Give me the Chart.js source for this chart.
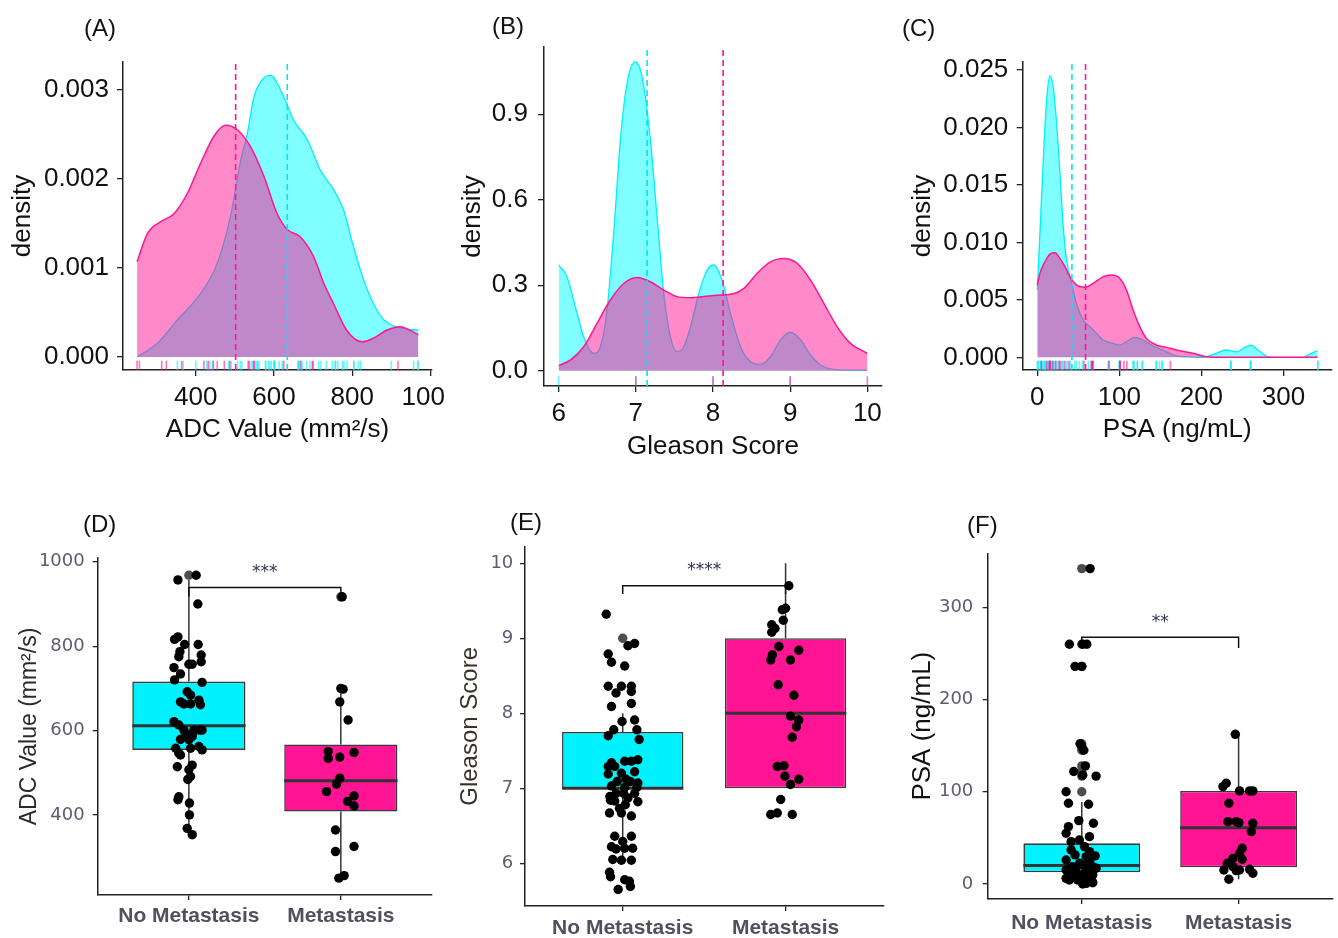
<!DOCTYPE html>
<html><head><meta charset="utf-8">
<script src="https://cdn.jsdelivr.net/npm/chart.js@4.4.1/dist/chart.umd.min.js"></script>
<style>
html,body{margin:0;padding:0;background:#fff;}
#wrap{position:relative;width:1338px;height:938px;overflow:hidden;background:#fff;}
canvas{position:absolute;}
.lab{position:absolute;font-family:"Liberation Sans",Arial,sans-serif;font-size:24px;color:#111;line-height:24px;}
</style></head><body><div id="wrap">
<canvas id="cA" width="446" height="410" style="left:0px;top:40px"></canvas>
<canvas id="cB" width="446" height="450" style="left:446px;top:20px"></canvas>
<canvas id="cC" width="446" height="410" style="left:892px;top:40px"></canvas>
<canvas id="cD" width="446" height="408" style="left:0px;top:530px"></canvas>
<canvas id="cE" width="446" height="418" style="left:446px;top:520px"></canvas>
<canvas id="cF" width="446" height="418" style="left:892px;top:520px"></canvas>
<div class="lab" style="left:84px;top:16px">(A)</div>
<div class="lab" style="left:492px;top:14px">(B)</div>
<div class="lab" style="left:902px;top:16px">(C)</div>
<div class="lab" style="left:83px;top:512px">(D)</div>
<div class="lab" style="left:510px;top:510px">(E)</div>
<div class="lab" style="left:967px;top:513px">(F)</div>
</div>
<script>
// ===================== DATA =====================
const groups = ['No Metastasis', 'Metastasis'];

// (A) ADC density
const adcNoMetX = [250,302,353,413,455,489,515,532,549,574,591,625,650,685,718,752,778,803,829,854,880,905,930,969];
const adcNoMetD = [0.00000,0.000154,0.000416,0.000716,0.00105,0.00158,0.00221,0.00251,0.00292,0.00313,0.00316,0.00292,0.00266,0.00244,0.00210,0.00188,0.00165,0.00124,0.00087,0.00060,0.00042,0.00035,0.00032,0.00030];
const adcMetX = [250,277,311,345,379,413,447,476,506,540,574,608,634,667,701,727,752,786,825,854,888,922,969];
const adcMetD = [0.00107,0.00139,0.00152,0.00161,0.00184,0.00218,0.00248,0.00260,0.00255,0.00236,0.00203,0.00161,0.00143,0.00135,0.00113,0.00083,0.00060,0.00030,0.00017,0.00021,0.00030,0.00034,0.00025];
const adcMeans = [634, 502];
const adcXTicks = [400, 600, 800, 1000];
const adcXLabels = ['400', '600', '800', '1000'];
const adcDensTicks = [0, 0.001, 0.002, 0.003];
const adcDensLabels = ['0.000', '0.001', '0.002', '0.003'];

// (B) Gleason density
const gsNoMetX = [6.0,6.108,6.216,6.324,6.454,6.540,6.627,6.713,6.800,6.886,6.994,7.081,7.189,7.275,7.362,7.448,7.535,7.621,7.708,7.816,7.924,8.010,8.118,8.227,8.356,8.486,8.616,8.745,8.875,9.005,9.135,9.264,9.394,9.524,9.653,10];
const gsNoMetD = [0.371,0.330,0.225,0.119,0.061,0.084,0.213,0.482,0.809,1.008,1.084,1.032,0.809,0.540,0.271,0.119,0.067,0.084,0.154,0.271,0.353,0.371,0.318,0.201,0.084,0.032,0.022,0.049,0.108,0.135,0.108,0.055,0.020,0.006,0.002,0.002];
const gsMetX = [6.0,6.151,6.324,6.497,6.670,6.843,7.016,7.189,7.362,7.535,7.708,7.881,8.054,8.227,8.400,8.573,8.745,8.918,9.091,9.264,9.437,9.610,9.783,10];
const gsMetD = [0.018,0.037,0.084,0.166,0.248,0.306,0.327,0.312,0.283,0.260,0.256,0.260,0.265,0.268,0.289,0.342,0.382,0.394,0.377,0.318,0.236,0.154,0.096,0.061];
const gsMeans = [7.146, 8.131];
const gsRugNoMet = [6, 7, 8, 9];
const gsRugMet = [7, 8, 9, 10];
const gsXTicks = [6, 7, 8, 9, 10];
const gsXLabels = ['6', '7', '8', '9', '10'];
const gsDensTicks = [0, 0.3, 0.6, 0.9];
const gsDensLabels = ['0.0', '0.3', '0.6', '0.9'];

// (C) PSA density
const psaNoMetX = [0,3.2,7.3,11.4,15.4,19.5,23.5,27.6,31.6,35.7,41.8,47.8,56.0,64.1,72.2,80.3,88.4,100.6,108.7,118.8,128.9,141.1,153.3,165.5,177.6,201.9,218.2,230.3,242.5,254.7,260.7,268.8,279.0,291,323.6,333.7,341.8];
const psaNoMetD = [0.00586,0.0108,0.0172,0.0224,0.0245,0.0235,0.0204,0.0160,0.0114,0.00847,0.00644,0.00470,0.00325,0.00267,0.00209,0.00151,0.00128,0.00107,0.00136,0.00174,0.00151,0.00099,0.00064,0.00020,0.00006,0,0.00035,0.00064,0.00049,0.00093,0.00107,0.00064,0.00012,0,0,0.00035,0.00058];
const psaMetX = [0,3.2,9.3,15.4,21.5,27.6,33.7,39.7,47.8,58.0,68.1,80.3,90.4,100.6,108.7,116.8,124.9,133.0,145.2,157.3,173.6,189.8,206,226,341.8];
const psaMetD = [0.00629,0.00731,0.00832,0.00899,0.00910,0.00861,0.00789,0.00702,0.00629,0.00609,0.00644,0.00702,0.00716,0.00687,0.00586,0.00412,0.00267,0.00165,0.00107,0.00087,0.00058,0.00035,0.00006,0,0];
const psaMeans = [42.2, 58.8];
const psaXTicks = [0, 100, 200, 300];
const psaXLabels = ['0', '100', '200', '300'];
const psaDensTicks = [0, 0.005, 0.010, 0.015, 0.020, 0.025];
const psaDensLabels = ['0.000', '0.005', '0.010', '0.015', '0.020', '0.025'];

// (D) ADC box plot: [low whisker, Q1, median, Q3, high whisker]
const adcBoxNoMet = [353, 554, 611, 716, 957];
const adcBoxMet = [250, 408, 481, 567, 700];
const adcOutNoMet = [968];
const adcOutMet = [917];
const adcPtsNoMetX = [1.048,0.928,1.059,0.906,0.928,0.972,1.061,0.941,0.934,1.081,1.081,1.000,1.022,0.902,0.945,0.906,1.087,0.989,1.011,0.945,1.066,1.076,0.967,1.011,0.902,0.934,0.967,1.033,1.072,0.978,1.022,1.087,0.945,1.000,1.022,0.913,0.934,0.945,1.011,1.066,1.087,1.022,0.924,1.000,1.011,0.993,0.934,0.928,1.004,1.004,0.989,1.022];
const adcPtsNoMetY = [968,957,900,816,822,804,804,787,775,779,763,757,757,749,734,720,714,692,684,668,672,661,663,663,621,613,601,601,601,593,589,601,579,578,586,558,546,542,558,562,554,518,514,507,491,484,443,436,428,400,368,353];
const adcPtsMetX = [2.009,2.000,2.015,1.993,2.048,1.917,1.917,1.993,2.087,1.993,1.972,1.906,2.087,2.044,2.087,1.965,1.965,2.087,1.987,2.022];
const adcPtsMetY = [917,700,698,668,625,550,534,537,548,487,473,455,445,432,421,364,313,325,250,256];
const adcBracket = [917, 939, 939, 917];
const adcSig = '***';
const adcSigY = 975;
const adcYTicks = [400, 600, 800, 1000];
const adcYLabels = ['400', '600', '800', '1000'];

// (E) Gleason box plot
const gsBoxNoMet = [6, 7, 7, 7.75, 8];
const gsBoxMet = [7, 7, 8, 9, 10];
const gsOutNoMet = [9];
const gsOutMet = [];
const gsPtsNoMetX = [0.899,1.032,1.073,0.911,0.931,1.012,0.911,0.992,1.053,0.959,1.053,0.931,1.053,0.996,1.073,0.945,1.087,0.911,1.101,0.931,0.911,0.951,1.012,1.053,1.093,0.911,0.992,1.073,1.020,1.093,0.931,0.966,1.047,1.012,1.087,0.921,0.959,1.006,1.073,0.925,0.951,1.032,1.093,0.980,1.016,0.919,1.053,0.992,0.951,1.053,1.000,0.931,1.012,1.061,0.959,0.939,0.992,1.053,0.919,0.925,1.012,1.041,1.047,0.972];
const gsPtsNoMetY = [9.32,8.90,8.93,8.79,8.68,8.63,8.36,8.36,8.36,8.27,8.29,8.09,8.13,7.89,7.91,7.78,7.78,7.70,7.65,7.34,7.29,7.29,7.36,7.36,7.38,7.19,7.20,7.22,7.12,7.07,7.03,7.09,7.09,7.01,7.01,6.89,6.93,6.93,6.93,6.84,6.83,6.87,6.82,6.73,6.78,6.67,6.63,6.67,6.36,6.36,6.29,6.22,6.20,6.20,6.19,6.05,6.04,6.04,5.88,5.82,5.78,5.76,5.69,5.65];
const gsPtsMetX = [2.020,1.980,2.000,1.986,1.915,1.935,1.915,1.959,2.081,1.919,1.909,2.030,1.955,2.051,2.030,2.081,2.067,2.041,1.949,1.990,1.996,2.030,2.081,1.970,1.909,1.949,2.041];
const gsPtsMetY = [9.70,9.38,9.40,9.24,9.18,9.13,9.08,8.89,8.84,8.78,8.71,8.71,8.38,8.24,7.96,7.91,7.82,7.68,7.29,7.30,7.16,7.05,7.12,6.85,6.65,6.67,6.65];
const gsBracket = [9.59, 9.70, 9.70, 9.59];
const gsSig = '****';
const gsSigY = 9.9;
const gsYTicks = [6, 7, 8, 9, 10];
const gsYLabels = ['6', '7', '8', '9', '10'];

// (F) PSA box plot
const psaBoxNoMet = [0.7, 12.7, 19.9, 44.1, 89];
const psaBoxMet = [5, 18.1, 61.1, 100.9, 163];
const psaOutNoMet = [342, 260, 236, 152, 145, 128, 122, 117, 100];
const psaOutMet = [];
const psaPtsNoMetX = [1.053,0.921,1.006,1.032,0.957,1.000,0.989,1.000,1.013,0.949,1.023,1.006,1.091,0.900,0.915,1.043,0.981,1.074,0.915,0.900,1.049,0.985,0.932,1.017,0.932,1.049,0.957,1.028,1.085,0.900,1.049,0.985,0.938,1.006,1.070,1.091,0.900,0.964,1.038,0.932,0.996,1.070,0.900,0.974,1.049,1.028,1.006,1.070,0.921,0.953,1.017,1.049];
const psaPtsNoMetY = [342,260,260,260,236,236,152,149,145,122,128,118,117,100,87.5,86.4,68.7,65.8,62.2,55,51.3,47.7,45.9,40.5,36.9,35.1,31.5,29.6,30.4,26,24.2,22.4,18.8,20.6,18.8,17,15.2,13.4,14.5,9.8,8,9.8,6.1,4.3,3.6,0.7,0,1.4,4.3,15.9,11.6,8.7];
const psaPtsMetX = [1.979,1.921,1.900,2.006,2.070,2.091,1.938,1.932,1.985,2.002,2.091,2.081,2.023,2.006,1.964,2.023,1.928,1.964,1.906,2.006,2.070,2.091,1.938,1.985];
const psaPtsMetY = [162.3,109.2,105.6,100.9,100.9,100.9,87.5,67.6,67.6,66.5,65.8,56.8,38.7,33.3,27.8,26.8,22.4,18.8,15.2,15.2,15.9,11.6,5.1,14.5];
const psaBracket = [260, 267.5, 267.5, 256];
const psaSig = '**';
const psaSigY = 284;
const psaYTicks = [0, 100, 200, 300];
const psaYLabels = ['0', '100', '200', '300'];

// ===================== STYLE / HELPERS =====================
const SANS = '"Liberation Sans", Arial, sans-serif';
const CYAN_FILL = 'rgba(0,255,255,0.5)';
const PINK_FILL = 'rgba(255,20,147,0.5)';
const CYAN_LINE = '#00F0F8';
const PINK_LINE = '#FF1493';
const CYAN_BOX = '#00F2FF';
const PINK_BOX = '#FF1493';
const BOX_W = 0.745;
Chart.defaults.font.family = SANS;

const zip = (xs, ys) => xs.map((x, i) => ({x: x, y: ys[i]}));

const sigPlugin = {
  id: 'sig',
  afterDatasetsDraw(chart, args, o) {
    if (!o || !o.text) return;
    const ctx = chart.ctx;
    const x = chart.scales.x.getPixelForValue(o.x);
    const y = chart.scales.y.getPixelForValue(o.y);
    ctx.save();
    ctx.font = o.font;
    ctx.fillStyle = o.color;
    ctx.textAlign = 'center';
    ctx.textBaseline = 'middle';
    ctx.fillText(o.text, x, y);
    ctx.restore();
  }
};

function fixedAxis(size, isX) {
  return function (s) {
    if (isX) { s.height = size; } else { s.width = size; }
    s.paddingLeft = 0; s.paddingRight = 0; s.paddingTop = 0; s.paddingBottom = 0;
  };
}
function setTicks(vals) {
  return function (s) { s.ticks = vals.map(v => ({value: v})); };
}

function densityChart(id, g, d) {
  const rugY = d.yMin + 0.015 * (d.yMax - d.yMin);
  const ds = [
    {data: [{x: d.means[0], y: d.yMin}, {x: d.means[0], y: d.yMax}], showLine: true, borderColor: '#00E5EE', borderDash: [6, 4], borderWidth: 1.6, pointRadius: 0, order: 0},
    {data: [{x: d.means[1], y: d.yMin}, {x: d.means[1], y: d.yMax}], showLine: true, borderColor: PINK_LINE, borderDash: [6, 4], borderWidth: 1.6, pointRadius: 0, order: 0},
    {data: zip(d.metX, d.metD), showLine: true, fill: 'origin', backgroundColor: PINK_FILL, borderColor: PINK_LINE, borderWidth: 1.5, pointRadius: 0, cubicInterpolationMode: 'monotone', order: 1},
    {data: zip(d.noMetX, d.noMetD), showLine: true, fill: 'origin', backgroundColor: CYAN_FILL, borderColor: CYAN_LINE, borderWidth: 1.3, pointRadius: 0, cubicInterpolationMode: 'monotone', order: 2},
    {data: d.rugMet.map(v => ({x: v, y: rugY})), pointStyle: 'line', pointRotation: 90, pointRadius: 4.6, pointBorderColor: 'rgba(255,20,147,0.6)', pointBorderWidth: 1.6, order: 3},
    {data: d.rugNoMet.map(v => ({x: v, y: rugY})), pointStyle: 'line', pointRotation: 90, pointRadius: 4.6, pointBorderColor: 'rgba(0,240,255,0.6)', pointBorderWidth: 1.6, order: 4}
  ];
  const tickFont = {family: SANS, size: 26};
  return new Chart(document.getElementById(id), {
    type: 'scatter',
    data: {datasets: ds},
    options: {
      responsive: false, animation: false, events: [],
      layout: {padding: {left: 0, top: g.pt, right: g.pr, bottom: 0}},
      plugins: {legend: {display: false}, tooltip: {enabled: false}},
      scales: {
        x: {
          type: 'linear', min: d.xMin, max: d.xMax, offset: false,
          afterFit: fixedAxis(g.xH, true), afterBuildTicks: setTicks(d.xTicks),
          grid: {display: true, offset: false, drawOnChartArea: false, drawTicks: true, tickLength: 6, color: '#222', lineWidth: 1.3},
          border: {display: true, color: '#222', width: 1.5},
          ticks: {font: tickFont, color: '#111', padding: g.xTickPad, maxRotation: 0, autoSkip: false, callback: (v, i) => d.xLabels[i]},
          title: {display: true, text: d.xTitle, font: {family: SANS, size: 26}, color: '#111', padding: {top: 0, bottom: g.xTitlePad}}
        },
        y: {
          type: 'linear', min: d.yMin, max: d.yMax,
          afterFit: fixedAxis(g.yW, false), afterBuildTicks: setTicks(d.yTicks),
          grid: {display: true, offset: false, drawOnChartArea: false, drawTicks: true, tickLength: 6, color: '#222', lineWidth: 1.3},
          border: {display: true, color: '#222', width: 1.5},
          ticks: {font: tickFont, color: '#111', padding: g.yTickPad, autoSkip: false, callback: (v, i) => d.yLabels[i]},
          title: {display: true, text: 'density', font: {family: SANS, size: 26}, color: '#111', padding: {top: g.yTitlePad, bottom: 0}}
        }
      }
    }
  });
}

function boxChart(id, g, d) {
  const boxes = [d.boxNoMet, d.boxMet];
  const ds = [];
  // jittered points
  ds.push({data: zip(d.ptsNoMetX, d.ptsNoMetY).concat(zip(d.ptsMetX, d.ptsMetY)), pointRadius: 4.7, pointBackgroundColor: '#000', pointBorderWidth: 0, order: 0});
  // outliers
  const outs = d.outNoMet.map(v => ({x: 1, y: v})).concat(d.outMet.map(v => ({x: 2, y: v})));
  ds.push({data: outs, pointRadius: 4.7, pointBackgroundColor: '#4D4D4D', pointBorderWidth: 0, order: 1});
  // bracket
  ds.push({data: [{x: 1, y: d.bracket[0]}, {x: 1, y: d.bracket[1]}, {x: 2, y: d.bracket[2]}, {x: 2, y: d.bracket[3]}], showLine: true, tension: 0, borderColor: '#111', borderWidth: 1.5, pointRadius: 0, order: 0});
  boxes.forEach((b, i) => {
    const c = i + 1;
    ds.push({data: [{x: c - BOX_W / 2, y: b[2]}, {x: c + BOX_W / 2, y: b[2]}], showLine: true, borderColor: '#333', borderWidth: 3, pointRadius: 0, order: 2});
    ds.push({data: [{x: c, y: b[3]}, {x: c, y: b[4]}], showLine: true, borderColor: '#333', borderWidth: 1.5, pointRadius: 0, order: 4});
    ds.push({data: [{x: c, y: b[0]}, {x: c, y: b[1]}], showLine: true, borderColor: '#333', borderWidth: 1.5, pointRadius: 0, order: 4});
  });
  ds.push({type: 'bar', data: boxes.map((b, i) => ({x: i + 1, y: [b[1], b[3]]})), backgroundColor: [CYAN_BOX, PINK_BOX], borderColor: '#3a3a3a', borderWidth: 1.6, borderSkipped: false, barPercentage: BOX_W, categoryPercentage: 1, order: 3});
  return new Chart(document.getElementById(id), {
    type: 'scatter',
    data: {datasets: ds},
    plugins: [sigPlugin],
    options: {
      responsive: false, animation: false, events: [],
      layout: {padding: {left: 0, top: g.pt, right: g.pr, bottom: 0}},
      plugins: {legend: {display: false}, tooltip: {enabled: false},
        sig: {text: d.sig, x: 1.5, y: d.sigY, font: '17px "DejaVu Sans", sans-serif', color: '#2b3350'}},
      scales: {
        x: {
          type: 'linear', min: 0.4, max: 2.6, offset: false,
          afterFit: fixedAxis(g.xH, true), afterBuildTicks: setTicks([1, 2]),
          grid: {display: true, offset: false, drawOnChartArea: false, drawTicks: true, tickLength: 5, color: '#222', lineWidth: 1.3},
          border: {display: true, color: '#222', width: 1.5},
          ticks: {font: {family: SANS, size: 21, weight: 'bold'}, color: '#50505e', padding: g.xTickPad, maxRotation: 0, autoSkip: false, callback: (v, i) => groups[i]}
        },
        y: {
          type: 'linear', min: d.yMin, max: d.yMax,
          afterFit: fixedAxis(g.yW, false), afterBuildTicks: setTicks(d.yTicks),
          grid: {display: true, offset: false, drawOnChartArea: false, drawTicks: true, tickLength: 5, color: '#222', lineWidth: 1.3},
          border: {display: true, color: '#222', width: 1.5},
          ticks: {font: {family: '"DejaVu Sans", sans-serif', size: 18}, color: '#5a5c70', padding: g.yTickPad, autoSkip: false, callback: (v, i) => d.yLabels[i]},
          title: {display: true, text: d.yTitle, font: {family: SANS, size: d.titleSize}, color: d.titleColor, padding: {top: g.yTitlePad, bottom: 0}}
        }
      }
    }
  });
}

// ===================== CHARTS =====================
densityChart('cA', {pt: 22, pr: 14, xH: 80, yW: 123, xTickPad: 6, xTitlePad: 4.4, yTickPad: 8, yTitlePad: 7.4}, {
  xMin: 214, xMax: 1004, yMin: -0.000146, yMax: 0.00331,
  xTicks: adcXTicks, xLabels: adcXLabels, yTicks: adcDensTicks, yLabels: adcDensLabels,
  xTitle: 'ADC Value (mm²/s)', noMetX: adcNoMetX, noMetD: adcNoMetD, metX: adcMetX, metD: adcMetD,
  means: adcMeans, rugNoMet: adcPtsNoMetY.concat(adcOutNoMet), rugMet: adcPtsMetY
});
densityChart('cB', {pt: 27, pr: 10, xH: 84, yW: 98, xTickPad: 6, xTitlePad: 7.7, yTickPad: 10, yTitlePad: 11.7}, {
  xMin: 5.81, xMax: 10.19, yMin: -0.0537, yMax: 1.136,
  xTicks: gsXTicks, xLabels: gsXLabels, yTicks: gsDensTicks, yLabels: gsDensLabels,
  xTitle: 'Gleason Score', noMetX: gsNoMetX, noMetD: gsNoMetD, metX: gsMetX, metD: gsMetD,
  means: gsMeans, rugNoMet: gsRugNoMet, rugMet: gsRugMet
});
densityChart('cC', {pt: 22, pr: 5.3, xH: 80, yW: 130.7, xTickPad: 6, xTitlePad: 4.4, yTickPad: 8.4, yTitlePad: 15.7}, {
  xMin: -17.8, xMax: 359, yMin: -0.0011, yMax: 0.0257,
  xTicks: psaXTicks, xLabels: psaXLabels, yTicks: psaDensTicks, yLabels: psaDensLabels,
  xTitle: 'PSA (ng/mL)', noMetX: psaNoMetX, noMetD: psaNoMetD, metX: psaMetX, metD: psaMetD,
  means: psaMeans, rugNoMet: psaPtsNoMetY.concat(psaOutNoMet), rugMet: psaPtsMetY
});
boxChart('cD', {pt: 28, pr: 14, xH: 43, yW: 97.7, xTickPad: 3.4, yTickPad: 8, yTitlePad: 16.2}, {
  yMin: 210, yMax: 1009, yTicks: adcYTicks, yLabels: adcYLabels, yTitle: 'ADC Value (mm²/s)', titleSize: 23, titleColor: '#2a2a2a',
  boxNoMet: adcBoxNoMet, boxMet: adcBoxMet, outNoMet: adcOutNoMet, outMet: adcOutMet,
  ptsNoMetX: adcPtsNoMetX, ptsNoMetY: adcPtsNoMetY, ptsMetX: adcPtsMetX, ptsMetY: adcPtsMetY,
  bracket: adcBracket, sig: adcSig, sigY: adcSigY
});
boxChart('cE', {pt: 26.7, pr: 8.7, xH: 32, yW: 79, xTickPad: 4.4, yTickPad: 6.7, yTitlePad: 9.6}, {
  yMin: 5.43, yMax: 10.22, yTicks: gsYTicks, yLabels: gsYLabels, yTitle: 'Gleason Score', titleSize: 24, titleColor: '#3a3228',
  boxNoMet: gsBoxNoMet, boxMet: gsBoxMet, outNoMet: gsOutNoMet, outMet: gsOutMet,
  ptsNoMetX: gsPtsNoMetX, ptsNoMetY: gsPtsNoMetY, ptsMetX: gsPtsMetX, ptsMetY: gsPtsMetY,
  bracket: gsBracket, sig: gsSig, sigY: gsSigY
});
boxChart('cF', {pt: 33.3, pr: 5.3, xH: 39, yW: 95.7, xTickPad: 6.4, yTickPad: 9.4, yTitlePad: 15.7}, {
  yMin: -16.3, yMax: 358.6, yTicks: psaYTicks, yLabels: psaYLabels, yTitle: 'PSA (ng/mL)', titleSize: 26, titleColor: '#111',
  boxNoMet: psaBoxNoMet, boxMet: psaBoxMet, outNoMet: psaOutNoMet, outMet: psaOutMet,
  ptsNoMetX: psaPtsNoMetX, ptsNoMetY: psaPtsNoMetY, ptsMetX: psaPtsMetX, ptsMetY: psaPtsMetY,
  bracket: psaBracket, sig: psaSig, sigY: psaSigY
});
</script></body></html>
